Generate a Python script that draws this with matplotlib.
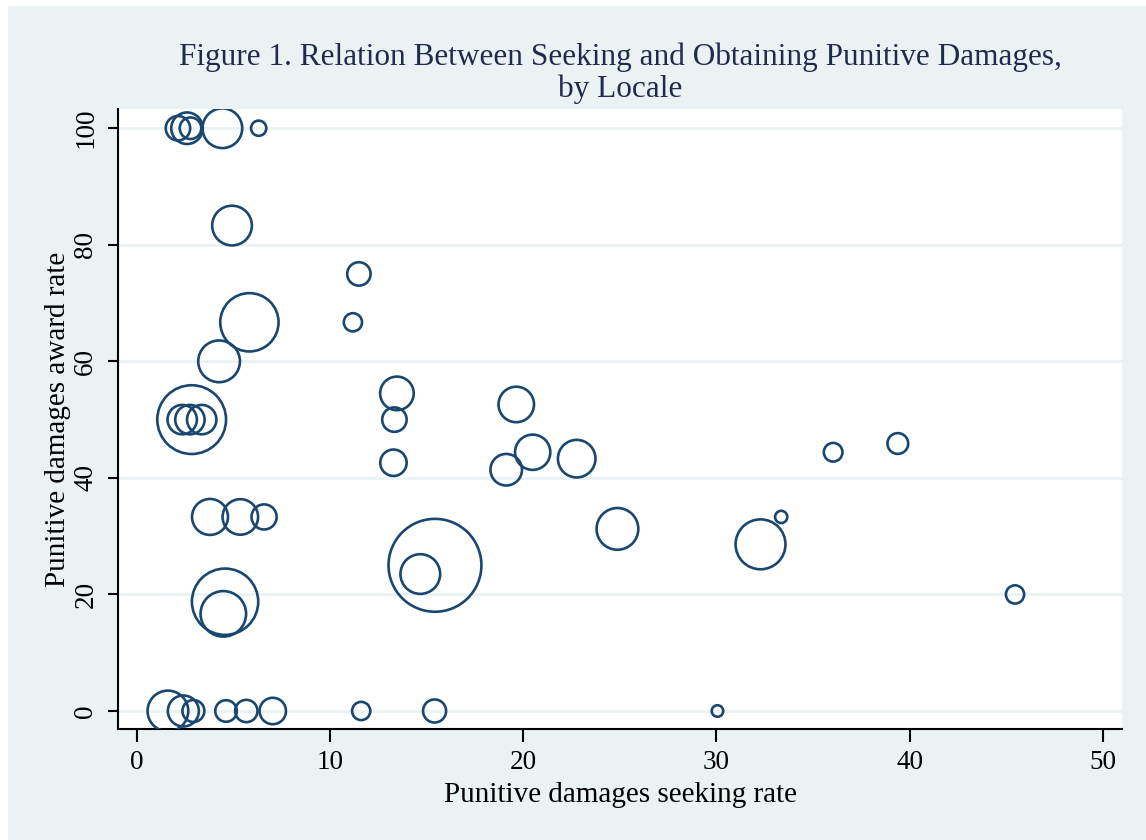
import matplotlib
matplotlib.use("Agg")
import matplotlib.pyplot as plt
from matplotlib.patches import Rectangle
import numpy as np

# ---- data ----
seek_rate = [2.11, 2.58, 2.76, 4.41, 6.29,
             4.91, 11.48, 5.81, 11.17, 4.24,
             2.82, 2.33, 2.73, 3.34,
             13.45, 13.32, 13.27,
             19.63, 20.48, 19.11, 22.76,
             24.87, 32.28, 33.35, 36.04, 39.39, 45.46,
             3.77, 5.34, 6.57, 4.55, 4.46,
             15.42, 14.66,
             1.59, 2.39, 2.91, 4.60, 5.65, 7.02, 11.60, 15.40, 30.05]
award_rate = [100, 100, 100, 100, 100,
              83.3, 75, 66.7, 66.7, 60,
              50, 50, 50, 50,
              54.5, 50, 42.6,
              52.6, 44.4, 41.4, 43.3,
              31.25, 28.6, 33.3, 44.4, 45.9, 20,
              33.3, 33.3, 33.3, 18.75, 16.67,
              25, 23.5,
              0, 0, 0, 0, 0, 0, 0, 0, 0]
cases = [36, 60, 28, 95, 14,
         95, 33, 205, 20, 105,
         285, 52, 52, 52,
         68, 36, 42,
         76, 75, 60, 85,
         105, 150, 9, 21, 26, 20,
         78, 76, 38, 265, 125,
         520, 95,
         100, 58, 29, 28, 30, 42, 20, 32, 8]

title = "Figure 1. Relation Between Seeking and Obtaining Punitive Damages,\nby Locale"
xlabel = "Punitive damages seeking rate"
ylabel = "Punitive damages award rate"
xticks = [0, 10, 20, 30, 40, 50]
yticks = [0, 20, 40, 60, 80, 100]

# ---- style ----
BG = "#EAF2F3"
NAVY = "#1A476F"
plt.rcParams["font.family"] = ["Liberation Serif", "DejaVu Serif"]

fig = plt.figure(figsize=(11.46, 8.4), dpi=100, facecolor=BG)
# thin white border at top and left as in the reference
fig.patches.append(Rectangle((0, 1 - 6 / 840), 1, 6 / 840, transform=fig.transFigure,
                             facecolor="white", edgecolor="none", zorder=-1))
fig.patches.append(Rectangle((0, 0), 8 / 1146, 1, transform=fig.transFigure,
                             facecolor="white", edgecolor="none", zorder=-1))

ax = fig.add_axes([118 / 1146, 1 - 729 / 840, (1122 - 118) / 1146, (729 - 109) / 840])
ax.set_facecolor("white")

sizes = 8.6 * np.asarray(cases, dtype=float)
ax.scatter(seek_rate, award_rate, s=sizes, facecolors="none", edgecolors=NAVY,
           linewidths=1.9, zorder=3)

ax.set_xlim(-0.995, 51.0)
ax.set_ylim(-3.09, 103.3)
ax.set_xticks(xticks)
ax.set_yticks(yticks)
ax.set_xticklabels([str(t) for t in xticks], fontsize=19.5)
ax.set_yticklabels([str(t) for t in yticks], fontsize=19.5, rotation=90, va="center")

ax.yaxis.grid(True, color=BG, linewidth=2.0, zorder=0)
ax.xaxis.grid(False)
ax.set_axisbelow(True)

for s in ["top", "right"]:
    ax.spines[s].set_visible(False)
for s in ["left", "bottom"]:
    ax.spines[s].set_linewidth(1.5)
    ax.spines[s].set_color("black")

ax.tick_params(axis="x", length=9.4, width=1.5, pad=6, colors="black")
ax.tick_params(axis="y", length=7.2, width=1.5, pad=7, colors="black")

ax.set_xlabel(xlabel, fontsize=21, color="black", labelpad=5)
ax.set_ylabel(ylabel, fontsize=21, color="black")
ax.yaxis.set_label_coords(-0.047, 0.5)

fig.text(620 / 1146, 1 - 42 / 840, title, ha="center", va="top",
         fontsize=22.5, color="#1F2B4D", linespacing=1.12)

fig.savefig("out.png", dpi=100, facecolor=BG)
